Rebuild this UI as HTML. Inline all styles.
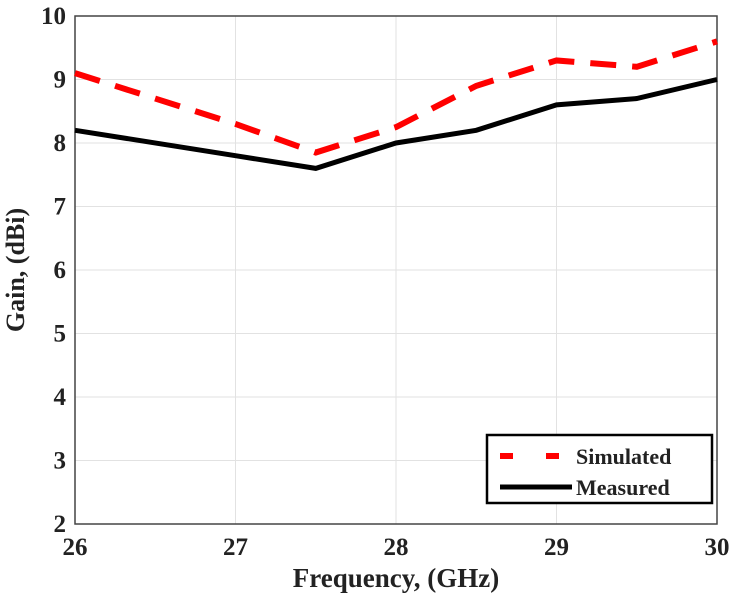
<!DOCTYPE html>
<html><head><meta charset="utf-8"><style>
body{margin:0;background:#fff}
svg text{font-family:"Liberation Serif",serif;font-weight:bold;fill:#222}
</style></head><body>
<svg width="735" height="597" id="c"></svg>
<script>
const freqs=[26,26.5,27,27.5,28,28.5,29,29.5,30];
const simulated=[9.1,8.7,8.3,7.85,8.25,8.9,9.3,9.2,9.6];
const measuredF=[26,27,27.5,28,28.5,29,29.5,30];
const measured=[8.2,7.8,7.6,8.0,8.2,8.6,8.7,9.0];
const xTicks=[26,27,28,29,30];
const yTicks=[2,3,4,5,6,7,8,9,10];
const L=75,R=717,T=16,B=524;
const xs=v=>L+(v-26)/4*(R-L), ys=v=>B-(v-2)/8*(B-T);
const svg=document.getElementById('c');const NS='http://www.w3.org/2000/svg';
function mk(t,a,p){const e=document.createElementNS(NS,t);for(const k in a)e.setAttribute(k,a[k]);(p||svg).appendChild(e);return e;}
xTicks.forEach(v=>{const l=mk('line',{x1:xs(v),x2:xs(v),y1:T,y2:B,stroke:'#e2e2e2','stroke-width':1});

const t=mk('text',{x:xs(v),y:B+31,'text-anchor':'middle','font-size':25});t.textContent=v;
});
yTicks.forEach(v=>{const l=mk('line',{x1:L,x2:R,y1:ys(v),y2:ys(v),stroke:'#e2e2e2','stroke-width':1});

const t=mk('text',{x:L-9,y:ys(v)+8,'text-anchor':'end','font-size':25});t.textContent=v;
});
const fr=mk('rect',{x:L,y:T,width:R-L,height:B-T,fill:'none',stroke:'#444','stroke-width':1.5});

const p1=mk('polyline',{points:freqs.map((f,i)=>xs(f)+','+ys(simulated[i])).join(' '),fill:'none',stroke:'#f00','stroke-width':6,'stroke-dasharray':'26 16'});

const p2=mk('polyline',{points:measuredF.map((f,i)=>xs(f)+','+ys(measured[i])).join(' '),fill:'none',stroke:'#000','stroke-width':5});

const xt=mk('text',{x:(L+R)/2,y:587,'text-anchor':'middle','font-size':27});xt.textContent='Frequency, (GHz)';

const yt=mk('text',{x:0,y:0,'text-anchor':'middle','font-size':26,transform:`translate(24,${(T+B)/2}) rotate(-90)`});yt.textContent='Gain, (dBi)';

const g=mk('g',{});
mk('rect',{x:487,y:435,width:225,height:68,fill:'#fff',stroke:'#000','stroke-width':2.5},g);
mk('line',{x1:500,x2:572,y1:456,y2:456,stroke:'#f00','stroke-width':6,'stroke-dasharray':'13 33'},g);
mk('line',{x1:500,x2:572,y1:487,y2:487,stroke:'#000','stroke-width':5},g);
const s=mk('text',{x:576,y:464,'font-size':22},g);s.textContent='Simulated';

const m=mk('text',{x:576,y:495,'font-size':22},g);m.textContent='Measured';

</script></body></html>
